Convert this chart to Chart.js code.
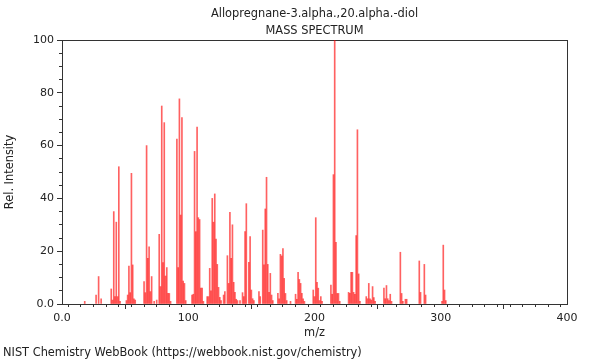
<!DOCTYPE html>
<html>
<head>
<meta charset="utf-8">
<script src="https://cdn.jsdelivr.net/npm/chart.js@4/dist/chart.umd.min.js"></script>
<style>
    body { margin: 0; background: #fff; }
    #wrap { position: relative; width: 600px; height: 360px; }
    #footer { position: absolute; left: 3px; top: 345px; font: 11.4px "DejaVu Sans", sans-serif; color: #222; white-space: nowrap; }
</style>
</head>
<body>
<div id="wrap">
    <canvas id="spectrum"></canvas>
    <div id="footer">NIST Chemistry WebBook (https://webbook.nist.gov/chemistry)</div>
</div>
<script>
// Chart data
const chartTitle = ['Allopregnane-3.alpha.,20.alpha.-diol', 'MASS SPECTRUM'];
const xTickLabels = ['0.0', '100', '200', '300', '400'];
const yTickLabels = ['0.0', '20', '40', '60', '80', '100'];

const massToCharge = [
    18, 27, 29, 31, 39, 40, 41, 42, 43, 44, 45, 46, 51, 52, 53, 54, 55, 56, 57, 58,
    65, 66, 67, 68, 69, 70, 71, 73, 75, 77, 78, 79, 80, 81, 82, 83, 84, 85, 86,
    91, 92, 93, 94, 95, 96, 97, 98, 103, 104, 105, 106, 107, 108, 109, 110, 111, 112,
    115, 116, 117, 118, 119, 120, 121, 122, 123, 124, 125, 126, 128, 129,
    131, 132, 133, 134, 135, 136, 137, 138, 139, 141, 143, 144, 145, 146, 148, 149, 150, 151, 152,
    156, 157, 159, 160, 161, 162, 163, 164, 165, 166, 167,
    171, 172, 173, 174, 175, 176, 177, 178, 181, 185, 186, 187, 188, 189, 190, 191, 192,
    199, 200, 201, 202, 203, 204, 205, 206, 213, 214, 215, 216, 217, 218, 219, 220,
    227, 228, 229, 230, 231, 232, 233, 234, 235, 236, 241, 242, 243, 244, 245, 246, 247, 248,
    255, 256, 257, 258, 259, 260, 261, 268, 269, 270, 272, 273, 283, 284, 287, 288,
    301, 302, 303, 304
];
const relIntensity = [
    1, 3.4, 10.4, 2, 5.7, 1.5, 35, 2.8, 31, 2.8, 52, 1, 1.3, 3.4, 14.4, 4.3, 49.5, 14.8, 2, 1.5,
    8.5, 4.3, 60, 17.3, 21.7, 4.7, 10.4, 1, 1.5, 26.4, 6.6, 75, 15.7, 68.7, 10.6, 13.8, 4, 4, 1,
    62.5, 13.8, 77.7, 33.7, 70.6, 8.7, 7.8, 1.3, 3.4, 3.7, 57.8, 27.4, 67, 32.7, 32, 6, 6, 1,
    2.8, 2.8, 13.5, 5, 40, 31, 41.7, 24.6, 15, 6.3, 2.5, 1.3, 3.4, 4.7,
    18.3, 7.8, 34.7, 17.3, 30, 8.2, 4.4, 1.8, 1.3, 1.3, 4.3, 2.8, 27.4, 38, 15.8, 25.5, 5.3, 2, 1.3,
    4.7, 2.8, 28, 14.8, 36, 48, 15, 4.4, 11.6, 3.4, 1.3,
    4, 2, 18.8, 18.2, 21, 9.7, 4, 1.3, 1, 3.7, 1.8, 12, 9.3, 7.8, 4, 2, 1,
    5.3, 2.8, 32.7, 8.2, 6, 1.3, 2.8, 1, 7.2, 3.7, 49, 100, 23.4, 4, 4, 1,
    4.4, 4, 12, 12, 4.4, 3.7, 25.9, 66, 11.4, 1, 2.8, 2, 7.8, 2, 1.5, 6.6, 2.4, 1,
    6, 2, 7, 2, 1.3, 3.7, 1, 19.6, 4, 1, 1.8, 1.8, 16.3, 4.4, 15, 3.4,
    1, 22.3, 5.3, 1.3
];

Chart.defaults.font.family = '"DejaVu Sans", sans-serif';
Chart.defaults.font.size = 11;
Chart.defaults.color = '#222';

const frameColor = '#333';

// force an axis box to a fixed size so the plot area lands where the reference has it
function fixSize(size) {
    return function(scale) {
        if (scale.isHorizontal()) {
            scale.height = size;
        } else {
            scale.width = size;
        }
    };
}

function plainAxis(position, extra) {
    return Object.assign({
        type: 'linear',
        position: position,
        offset: false,
        ticks: { display: false, autoSkip: false },
        grid: { drawOnChartArea: false, drawTicks: false, color: frameColor },
        border: { display: true, color: frameColor, width: 1 }
    }, extra);
}

const ctx = document.getElementById('spectrum').getContext('2d');

new Chart(ctx, {
    type: 'bar',
    data: {
        datasets: [{
            data: massToCharge.map((m, i) => ({ x: m, y: relIntensity[i] })),
            backgroundColor: 'rgba(255, 0, 0, 0.62)',
            borderWidth: 0,
            barThickness: 1,
            xAxisID: 'x',
            yAxisID: 'y'
        }]
    },
    options: {
        responsive: true,
        maintainAspectRatio: false,
        animation: false,
        layout: { padding: { left: 0, right: 33, top: 0, bottom: 20 } },
        plugins: {
            legend: { display: false },
            tooltip: { enabled: false }
        },
        scales: {
            x: {
                type: 'linear',
                position: 'bottom',
                weight: 1,
                min: 0,
                max: 400,
                offset: false,
                ticks: {
                    stepSize: 100,
                    autoSkip: false,
                    maxRotation: 0,
                    padding: 3,
                    callback: (v, i) => xTickLabels[i]
                },
                grid: { drawOnChartArea: false, tickLength: 5, color: frameColor },
                border: { display: true, color: frameColor },
                title: { display: true, text: 'm/z', font: { size: 11.4 }, padding: { top: 0, bottom: 0 } },
                afterFit: fixSize(36)
            },
            xMinor: plainAxis('bottom', {
                weight: 0,
                min: 0,
                max: 400,
                ticks: { display: false, autoSkip: false, stepSize: 10 },
                grid: { drawOnChartArea: false, drawTicks: true, tickLength: 3, color: frameColor },
                afterFit: fixSize(0)
            }),
            y: {
                type: 'linear',
                position: 'left',
                weight: 1,
                min: 0,
                max: 100,
                ticks: {
                    stepSize: 20,
                    autoSkip: false,
                    padding: 3,
                    callback: (v, i) => yTickLabels[i]
                },
                grid: { drawOnChartArea: false, tickLength: 5, color: frameColor },
                border: { display: true, color: frameColor },
                title: { display: true, text: 'Rel. Intensity', font: { size: 11.4 }, padding: { top: 3, bottom: 0 } },
                afterFit: fixSize(62)
            },
            yMinor: plainAxis('left', {
                weight: 0,
                min: 0,
                max: 100,
                ticks: { display: false, autoSkip: false, stepSize: 5 },
                grid: { drawOnChartArea: false, drawTicks: true, tickLength: 3, color: frameColor },
                afterFit: fixSize(0)
            }),
            xTop: plainAxis('top', {
                min: 0,
                max: 400,
                title: {
                    display: true,
                    text: chartTitle,
                    font: { size: 11.4, lineHeight: 1.5 },
                    padding: { top: 5, bottom: 0 }
                },
                afterFit: fixSize(40)
            }),
            yRight: plainAxis('right', {
                min: 0,
                max: 100,
                afterFit: fixSize(0)
            })
        }
    }
});
</script>
</body>
</html>
